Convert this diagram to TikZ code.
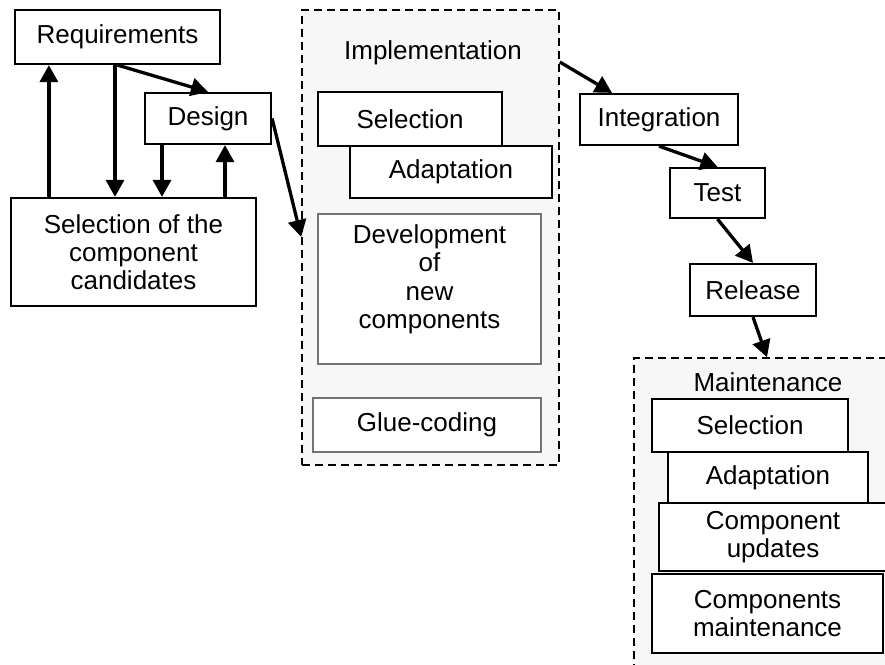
\documentclass[tikz,border=0pt]{standalone}
\usepackage{fontspec}
\setmainfont{Liberation Sans}
\usetikzlibrary{arrows.meta,calc}
\begin{document}
\begin{tikzpicture}[x=1pt,y=-1pt,
  every node/.style={font=\fontsize{26}{28}\selectfont, inner sep=0pt, align=center},
  blk/.style={draw=black, line width=2.2pt, fill=white, minimum width=#1},
  soft/.style={draw=black!55, line width=1.8pt, fill=white, minimum width=#1},
  phase/.style={draw=black, line width=1.6pt, dash pattern=on 8pt off 5pt, fill=black!3},
  arr/.style={line width=3.3pt, -{Triangle[length=17pt,width=18pt]}},
  plain/.style={draw=none, fill=none}
]
\useasboundingbox (0,0) rectangle (885,664);
\clip (0,0) rectangle (885,664);

% phase containers
\node[phase, minimum width=257pt, minimum height=455pt] (impl) at (430.5,237.5) {};
\node[phase, minimum width=280pt, minimum height=330pt] (maint) at (774,523) {};

% early phases
\node[blk=205pt, minimum height=54pt] (req) at (117.5,37) {Requirements};
\node[blk=126pt, minimum height=51pt] (des) at (208,118.5) {Design};
\node[blk=245pt, minimum height=108pt] (cand) at (133.5,252) {Selection of the\\component\\candidates};

% implementation contents
\node[plain] (impllbl) at (433,53) {Implementation};
\node[blk=184pt, minimum height=54pt] (isel) at (410,119) {Selection};
\node[blk=202pt, minimum height=52pt] (iada) at (451,172) {Adaptation};
\node[soft=223pt, minimum height=150pt] (idev) at (429.5,289) {};
\node[plain, font=\fontsize{26}{28.5}\selectfont] (idevtxt) at (429.5,279.5) {Development\\of\\new\\components};
\node[soft=228pt, minimum height=54pt] (iglue) at (427,425) {Glue-coding};

% later phases
\node[blk=158pt, minimum height=51pt] (integ) at (659,119.5) {Integration};
\node[blk=95pt, minimum height=50pt] (test) at (717.5,193) {Test};
\node[blk=126pt, minimum height=52pt] (rel) at (753,290) {Release};

% maintenance contents
\node[plain] (maintlbl) at (768,382) {Maintenance};
\node[blk=196pt, minimum height=53pt] (msel) at (750,425.5) {Selection};
\node[blk=200pt, minimum height=51pt] (mada) at (768,477.5) {Adaptation};
\node[blk=228pt, minimum height=68pt] (mupd) at (773,537) {Component\\updates};
\node[blk=231pt, minimum height=79pt] (mmnt) at (767.5,613.5) {Components\\maintenance};

% feedback loops between requirements, design and candidate selection
\draw[arr] ([xshift=39pt]cand.north west) -- ([xshift=39pt]cand.north west |- req.south);
\draw[arr] ([xshift=-2.5pt]req.south) -- ([xshift=-2.5pt]req.south |- cand.north);
\draw[arr] (req.south) -- (des.north);
\draw[arr] ([xshift=-46pt]des.south) -- ([xshift=-46pt]des.south |- cand.north);
\draw[arr] ([xshift=17pt]des.south |- cand.north) -- ([xshift=17pt]des.south);

% main flow
\coordinate (implin) at (impl.west |- 0,237);
\draw[arr] (des.east) -- (implin);
\coordinate (implout) at (impl.east |- 0,62);
\draw[arr] (implout) -- ([xshift=-47pt]integ.north);
\draw[arr] (integ.south) -- (test.north);
\draw[arr] (test.south) -- (rel.north);
\draw[arr] (rel.south) -- (maint.north -| 767,0);
\end{tikzpicture}
\end{document}
